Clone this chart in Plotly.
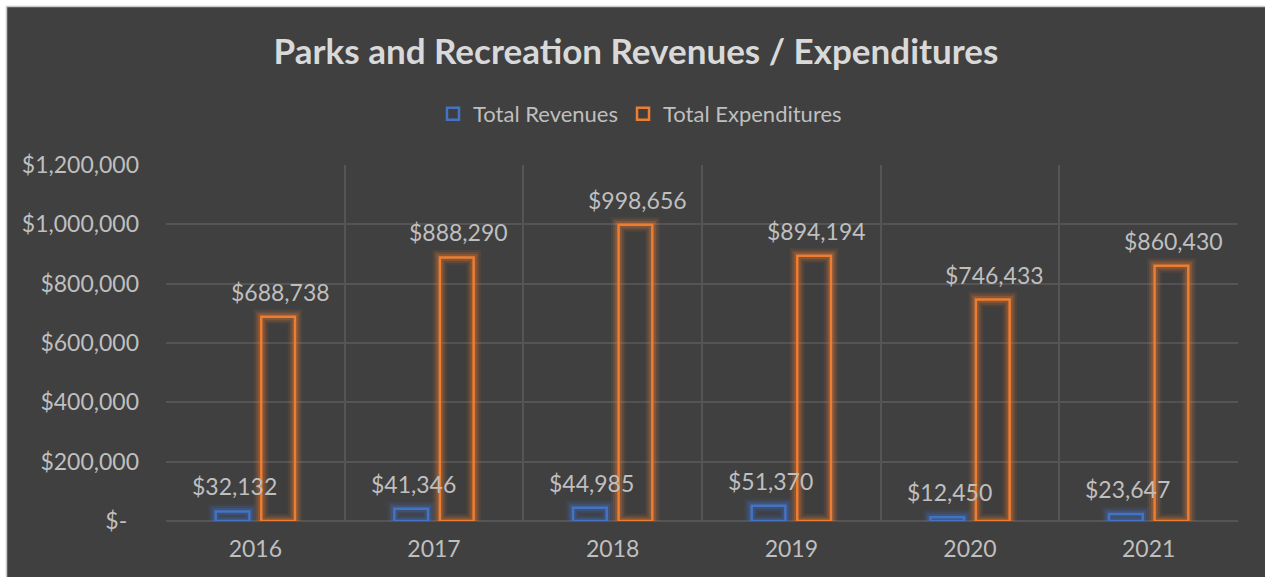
import plotly.graph_objects as go

years = ["2016", "2017", "2018", "2019", "2020", "2021"]
revenues = [32132, 41346, 44985, 51370, 12450, 23647]
expenditures = [688738, 888290, 998656, 894194, 746433, 860430]
y_ticks = [0, 200000, 400000, 600000, 800000, 1000000, 1200000]
y_ticktext = ["$-\u00a0\u00a0", "$200,000", "$400,000", "$600,000", "$800,000", "$1,000,000", "$1,200,000"]

BLUE = "#4472C4"
ORANGE = "#ED7D31"
BG = "#404040"
TXT = "#BFBFBF"
GRID = "#555555"
FONT = "Lato"

fig = go.Figure()
series = [("Total Revenues", revenues, BLUE, (68, 114, 196), "r"),
          ("Total Expenditures", expenditures, ORANGE, (237, 125, 49), "e")]
for name, vals, col, rgb, grp in series:
    for w, a in [(15, 0.08), (11, 0.14), (7, 0.25)]:
        fig.add_trace(go.Bar(x=years, y=vals, offsetgroup=grp, showlegend=False, hoverinfo="skip",
                             marker=dict(color="rgba(0,0,0,0)",
                                         line=dict(color=f"rgba({rgb[0]},{rgb[1]},{rgb[2]},{a})", width=w))))
    fig.add_trace(go.Bar(x=years, y=vals, name=name, offsetgroup=grp,
                         marker=dict(color="rgba(0,0,0,0.03)", line=dict(color=col, width=2.5))))

W, H = 1265, 577
L, R, T, B = 166, 27, 165, 56
pw, ph = W - L - R, H - T - B
slot = 45.5

annotations = []
for vals, shift in [(revenues, -slot / 2), (expenditures, slot / 2)]:
    for i, v in enumerate(vals):
        annotations.append(dict(x=i, y=v, xref="x", yref="y", text=f"${v:,}", showarrow=False,
                                xshift=shift + 2, yshift=25, yanchor="middle",
                                font=dict(family=FONT, size=23, color=TXT)))

# dark chart frame, leaving a thin white strip at the top and left like the reference
fig.add_shape(type="rect", xref="paper", yref="paper", layer="below",
              x0=(6.5 - L) / pw, x1=(W + 5 - L) / pw, y0=-(B + 5) / ph, y1=1 + (T - 6.5) / ph,
              fillcolor=BG, line=dict(color="#C8C8C8", width=1.5))

fig.update_layout(
    width=W, height=H,
    margin=dict(l=L, r=R, t=T, b=B),
    paper_bgcolor="white", plot_bgcolor=BG,
    barmode="group", bargap=0.49, bargroupgap=0.26,
    title=dict(text="<b>Parks and Recreation Revenues / Expenditures</b>", x=636 / W, xanchor="center",
               y=1 - 52 / H, yanchor="middle", yref="container",
               font=dict(family=FONT, size=35, color="#D9D9D9")),
    legend=dict(orientation="h", x=(640 - L) / pw, xanchor="center", y=(521 - 114) / ph,
                yanchor="middle", font=dict(family=FONT, size=22, color=TXT), bgcolor="rgba(0,0,0,0)"),
    xaxis=dict(type="category", tickson="boundaries", showgrid=True, gridcolor=GRID, gridwidth=1.5,
               ticks="", tickfont=dict(family=FONT, size=23, color=TXT), range=[-0.5, 5.5],
               showline=False, zeroline=False, ticklabelstandoff=12),
    yaxis=dict(range=[0, 1200000], tickvals=y_ticks, ticktext=y_ticktext, showgrid=True,
               gridcolor=GRID, gridwidth=1.5, zeroline=True, zerolinecolor=GRID, zerolinewidth=1.5,
               tickfont=dict(family=FONT, size=23, color=TXT), ticks="", automargin=False,
               ticklabelstandoff=26),
    annotations=annotations,
)
fig.write_html("out.html", config={"displayModeBar": False},
               post_script="document.body.style.margin='0px';")
